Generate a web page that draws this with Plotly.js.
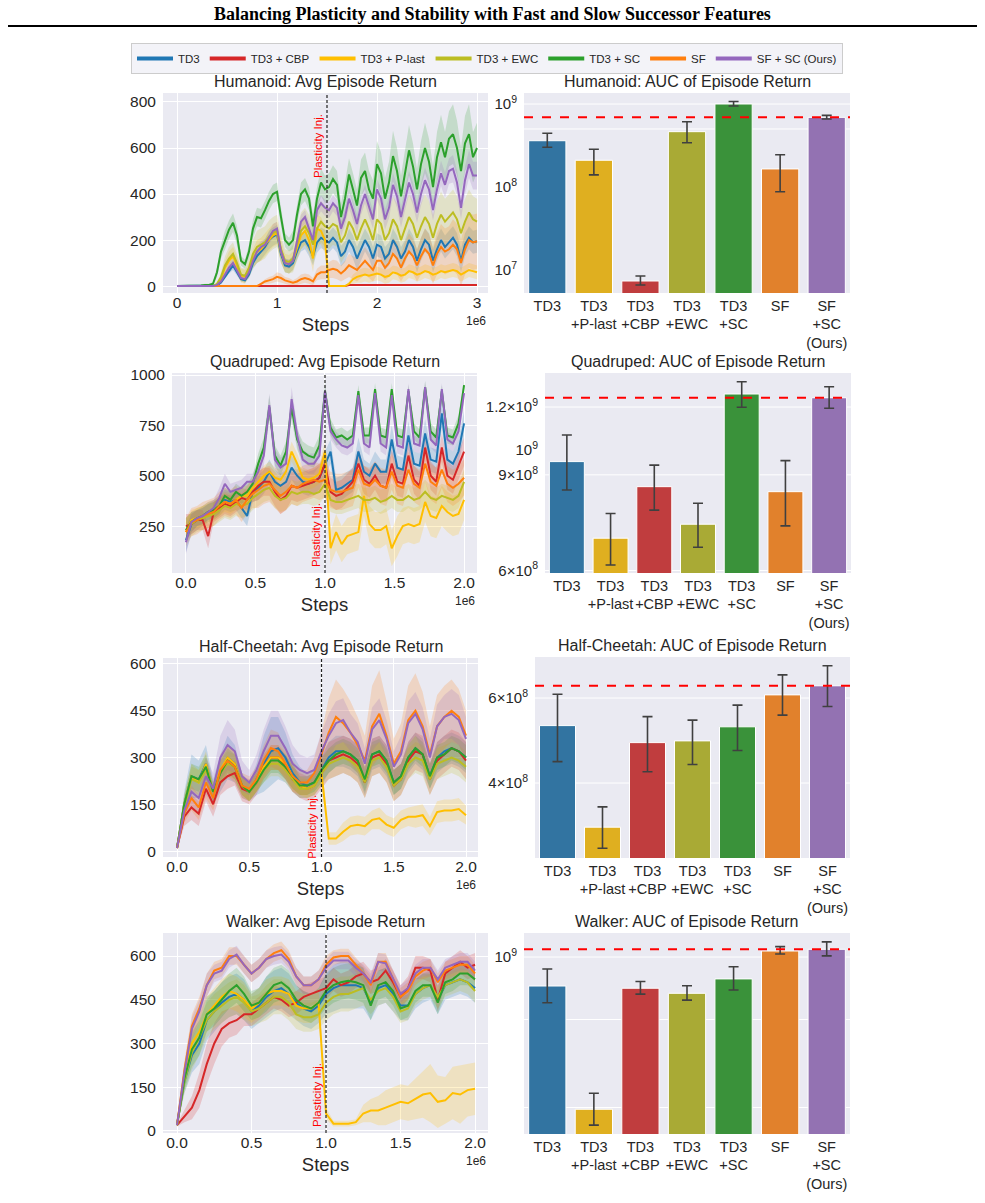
<!DOCTYPE html>
<html><head><meta charset="utf-8">
<script src="https://cdn.plot.ly/plotly-3.0.1.min.js"></script>
<style>html,body{margin:0;padding:0;background:#fff;}#chart{width:985px;height:1203px;}</style>
</head><body><div id="chart"></div>
<script>
// ---------------- DATA ----------------
const seriesNames = ['TD3','TD3 + CBP','TD3 + P-last','TD3 + EWC','TD3 + SC','SF','SF + SC (Ours)'];

// Humanoid (steps in 1e6)
const humSteps = [0,0.04,0.08,0.12,0.16,0.2,0.24,0.28,0.32,0.36, 0.4,0.44,0.48,0.52,0.56,0.6,0.64,0.68,0.72,0.76, 0.8,0.84,0.88,0.92,0.96,1,1.04,1.08,1.12,1.16, 1.2,1.24,1.28,1.32,1.36,1.4,1.44,1.48,1.52,1.56, 1.6,1.64,1.68,1.72,1.76,1.8,1.84,1.88,1.92,1.96, 2,2.04,2.08,2.12,2.16,2.2,2.24,2.28,2.32,2.36, 2.4,2.44,2.48,2.52,2.56,2.6,2.64,2.68,2.72,2.76, 2.8,2.84,2.88,2.92,2.96,3];
const humTD3 = [0,0,0,0,0,0,0,0,0,0, 3,15,40,70,90,60,30,25,50,100, 130,150,170,200,215,225,140,90,85,100, 150,190,200,170,130,190,210,200,190,210, 190,130,150,200,170,120,160,200,170,120, 180,170,120,140,200,170,120,150,200,170, 110,160,200,180,110,160,200,170,190,210, 180,110,180,210,190,195];
const humTD3Sd = [0,0,0,0,0,0,0,0,0,0, 2,5,10,15,20,15,10,10,15,25, 30,35,35,40,40,40,35,30,30,30, 35,40,40,40,40,45,45,45,45,45, 45,45,45,50,50,50,50,50,50,50, 50,50,50,50,50,50,50,50,50,50, 50,50,50,50,50,50,50,50,50,50, 50,50,50,50,50,50];
const humCBP = [0,0,0,0,0,0,0,0,0,0, 0,0,0,0,0,0,0,0,0,0, 0,0,0,0,0,0,0,0,0,0, 0,0,0,0,0,0,0,0,0,0, 0,0,0,5,5,5,5,5,5,5, 5,5,5,5,5,5,5,5,5,5, 5,5,5,5,5,5,5,5,5,5, 5,5,5,5,5,5];
const humCBPSd = [0,0,0,0,0,0,0,0,0,0, 0,0,0,0,0,0,0,0,0,0, 0,0,0,0,0,0,0,0,0,0, 0,0,0,0,0,0,0,0,0,0, 0,0,0,2,2,2,2,2,2,2, 2,2,2,2,2,2,2,2,2,2, 2,2,2,2,2,2,2,2,2,2, 2,2,2,2,2,2];
const humPL = [0,0,0,0,0,0,0,0,0,0, 5,30,80,110,130,90,45,40,70,120, 150,160,180,200,220,230,150,100,95,110, 170,220,240,200,120,250,240,200,0,0, 0,0,0,10,30,40,45,50,45,50, 55,50,40,45,60,55,45,50,65,60, 50,55,65,60,50,55,65,60,65,70, 65,50,60,70,65,60];
const humPLSd = [0,0,0,0,0,0,0,0,0,0, 3,10,30,40,40,40,30,30,30,40, 50,50,50,50,50,50,50,40,40,40, 50,60,60,60,60,60,60,60,0,0, 0,0,0,10,20,25,30,30,30,30, 30,30,30,30,30,30,30,30,30,30, 30,30,30,30,30,30,30,30,30,30, 30,30,30,30,30,30];
const humEWC = [0,0,0,0,0,0,0,0,0,0, 10,40,90,120,140,100,50,45,80,140, 170,180,190,215,230,240,160,110,105,120, 180,240,260,230,180,250,280,260,250,270, 260,190,220,280,250,200,250,290,250,200, 290,270,200,230,290,260,200,250,300,270, 210,260,300,270,210,270,310,280,300,320, 290,230,280,320,290,280];
const humEWCSd = [0,0,0,0,0,0,0,0,0,0, 5,20,40,50,50,40,30,30,40,60, 70,70,70,70,70,70,60,50,50,60, 70,80,80,80,80,90,90,90,90,90, 90,90,90,90,90,90,90,90,90,90, 100,100,100,100,100,100,100,100,100,100, 100,100,100,100,100,100,100,100,100,100, 100,100,100,100,100,100];
const humSC = [0,0,0,0,0,0,3,5,5,10, 60,150,200,245,275,220,110,95,150,250, 300,295,330,370,400,410,300,200,180,200, 310,400,420,380,260,380,450,420,430,465, 440,300,380,485,420,350,470,500,420,380, 530,490,380,450,565,500,390,500,590,520, 420,530,600,540,430,560,625,560,640,660, 600,500,620,660,560,600];
const humSCSd = [0,0,0,0,0,0,3,5,5,8, 20,30,40,40,40,40,20,20,30,40, 40,40,40,40,40,40,40,30,30,40, 40,50,50,50,50,50,60,60,60,60, 60,60,70,70,70,70,80,80,80,80, 100,90,90,90,110,100,90,100,110,100, 90,100,110,100,90,110,120,110,120,130, 120,100,120,130,110,110];
const humSF = [0,0,0,0,0,0,0,0,0,0, 0,0,0,0,0,0,0,0,0,0, 0,10,20,25,30,40,35,25,20,15, 20,30,35,30,20,50,60,60,70,75, 70,55,70,90,80,70,90,110,90,70, 110,110,80,100,140,120,80,120,150,130, 90,130,160,140,90,140,170,150,160,180, 160,100,160,200,190,195];
const humSFSd = [0,0,0,0,0,0,0,0,0,0, 0,0,0,0,0,0,0,0,0,0, 0,5,10,15,15,20,20,15,15,10, 15,20,20,20,15,25,30,30,35,40, 40,35,40,50,50,50,55,60,55,50, 60,60,55,60,70,70,60,70,80,75, 70,80,90,85,80,90,100,100,100,110, 110,100,110,120,120,120];
const humSFSC = [0,0,0,0,0,0,0,0,0,0, 5,20,50,80,100,70,35,30,60,110, 150,170,180,210,240,250,150,100,95,110, 200,280,300,250,200,330,360,340,330,360, 340,250,300,380,330,270,350,400,340,290, 420,380,290,340,440,390,300,380,450,400, 320,400,460,420,330,420,490,440,500,510, 450,340,460,530,480,480];
const humSFSCSd = [0,0,0,0,0,0,0,0,0,0, 3,8,15,20,20,15,10,10,15,20, 25,25,25,25,30,30,25,20,20,20, 25,30,30,30,30,35,35,35,35,35, 35,35,35,40,40,40,40,40,40,40, 45,45,45,45,50,50,45,50,50,50, 45,50,55,50,45,50,55,55,55,60, 55,50,60,60,60,60];

// Quadruped
const quadSteps = [0,0.04,0.08,0.12,0.16,0.2,0.24,0.28,0.32,0.36, 0.4,0.44,0.48,0.52,0.56,0.6,0.64,0.68,0.72,0.76, 0.8,0.84,0.88,0.92,0.96,1,1.04,1.08,1.12,1.16, 1.2,1.24,1.28,1.32,1.36,1.4,1.44,1.48,1.52,1.56, 1.6,1.64,1.68,1.72,1.76,1.8,1.84,1.88,1.92,1.96, 2];
const quadTD3 = [180,260,280,300,320,330,350,380,370,380, 340,300,420,440,470,520,470,450,470,540, 500,470,460,470,490,560,620,430,440,460, 480,620,520,500,560,520,520,680,540,530, 700,560,550,710,580,570,810,580,560,620, 760];
const quadTD3Sd = [60,50,50,50,50,50,50,50,50,50, 50,50,50,60,60,60,60,60,60,60, 60,60,60,60,60,60,60,60,60,60, 60,70,60,60,60,60,60,70,60,60, 70,60,60,70,60,60,70,60,60,60, 60];
const quadCBP = [250,260,280,280,200,320,340,360,350,370, 390,380,420,450,470,470,420,380,400,450, 440,450,460,470,490,560,420,400,410,440, 470,560,480,460,500,450,440,560,470,460, 600,480,450,640,500,470,640,500,480,550, 620];
const quadCBPSd = [60,50,50,50,60,50,50,50,50,50, 50,50,50,70,70,70,70,70,70,70, 70,70,70,70,70,70,70,70,70,70, 70,70,70,70,70,70,70,70,70,70, 70,70,70,70,70,70,70,70,70,70, 70];
const quadPL = [220,280,290,300,320,330,350,370,360,380, 400,400,440,470,500,520,490,480,520,620, 560,490,480,490,510,620,140,220,160,200, 210,220,400,260,230,230,250,140,200,250, 260,250,260,370,300,290,350,320,300,310, 380];
const quadPLSd = [50,50,50,50,50,50,50,50,50,50, 50,50,50,50,50,50,50,50,50,50, 50,50,50,50,50,50,80,90,90,90, 90,90,100,90,90,90,90,90,100,90, 90,90,90,100,100,100,100,100,100,100, 100];
const quadEWC = [230,260,280,290,300,310,330,350,340,360, 350,360,390,410,430,440,400,380,390,420, 410,420,420,410,420,460,380,370,370,380, 390,400,380,380,390,370,380,400,380,380, 400,380,390,420,390,380,400,390,380,400, 470];
const quadEWCSd = [60,60,60,60,60,60,60,60,60,60, 60,60,60,60,60,60,60,60,60,60, 60,60,60,60,60,60,60,60,60,60, 60,60,60,60,60,60,60,60,60,60, 60,60,60,60,60,60,60,60,60,60, 60];
const quadSC = [230,270,290,300,320,330,350,400,380,420, 400,420,460,560,640,840,600,550,620,840, 680,620,600,590,650,920,740,690,700,680, 700,920,700,700,930,700,690,930,700,690, 920,720,690,940,720,690,920,700,690,760, 950];
const quadSCSd = [60,50,40,40,40,40,40,40,40,40, 40,40,40,50,50,60,50,50,50,60, 50,50,50,50,50,40,40,40,40,40, 40,30,40,40,30,40,40,30,40,40, 30,40,40,30,40,40,30,40,40,40, 20];
const quadSF = [220,270,280,300,310,320,350,370,360,380, 340,380,410,430,450,460,430,400,420,450, 440,460,470,480,470,480,430,420,420,430, 440,530,460,450,480,450,440,520,450,440, 530,460,440,560,470,450,530,460,440,460, 490];
const quadSFSd = [70,70,70,70,70,70,70,70,70,70, 70,70,70,90,90,90,90,90,90,90, 90,90,90,90,90,90,90,90,90,90, 90,90,90,90,90,90,90,90,90,90, 90,90,90,90,90,90,90,90,90,90, 90];
const quadSFSC = [170,270,290,300,320,340,390,460,420,430, 440,470,470,520,600,850,580,540,560,880, 700,580,560,560,600,920,720,680,650,640, 660,900,660,640,910,660,640,900,650,640, 930,660,650,940,680,650,930,680,660,720, 910];
const quadSFSCSd = [60,50,40,40,40,40,50,50,40,40, 40,40,40,50,50,60,50,50,50,60, 50,50,50,50,50,40,40,40,40,40, 40,30,40,40,30,40,40,30,40,40, 30,40,40,30,40,40,30,40,40,40, 30];

// Half-Cheetah
const cheSteps = [0,0.05,0.1,0.15,0.2,0.25,0.3,0.35,0.4,0.45, 0.5,0.55,0.6,0.65,0.7,0.75,0.8,0.85,0.9,0.95, 1,1.05,1.1,1.15,1.2,1.25,1.3,1.35,1.4,1.45, 1.5,1.55,1.6,1.65,1.7,1.75,1.8,1.85,1.9,1.95, 2];
const cheTD3 = [10,150,240,230,280,190,250,300,280,210, 190,230,280,320,330,300,250,220,210,220, 260,300,320,320,310,290,220,310,320,290, 220,240,300,330,310,240,300,320,330,320, 300];
const cheTD3Sd = [5,40,70,60,60,40,60,70,60,40, 30,50,90,110,100,80,60,50,40,40, 50,50,50,50,50,50,40,50,50,50, 40,40,50,50,50,40,50,50,50,50, 50];
const cheCBP = [10,110,140,120,200,150,220,240,250,200, 190,220,270,300,300,270,230,210,200,210, 250,290,300,310,300,280,220,300,310,280, 210,230,290,320,310,230,290,310,330,320, 290];
const cheCBPSd = [5,30,40,40,40,40,40,40,40,40, 40,40,40,40,40,40,40,40,40,40, 50,60,60,60,60,60,50,60,60,60, 50,50,60,60,60,50,60,60,60,60, 60];
const chePL = [10,150,240,220,280,190,260,300,280,210, 190,220,270,300,300,280,240,210,200,210, 250,40,40,62,80,84,80,100,105,85, 75,100,110,110,115,80,125,130,130,135, 115];
const chePLSd = [5,30,40,40,40,30,40,40,40,30, 30,30,40,40,40,40,40,30,30,30, 40,20,20,30,30,30,30,30,35,30, 30,30,30,35,35,30,35,35,35,35, 30];
const cheEWC = [10,140,230,220,260,190,250,280,270,210, 190,220,260,280,280,260,230,200,200,210, 250,280,290,300,290,270,220,290,300,270, 210,230,280,300,290,230,280,290,300,290, 270];
const cheEWCSd = [5,30,40,40,40,30,40,40,40,30, 30,30,40,40,40,40,40,30,30,30, 40,50,50,50,50,50,50,50,50,50, 50,50,50,50,50,50,50,50,50,50, 50];
const cheSC = [10,150,240,230,270,190,250,290,270,210, 190,220,260,290,290,270,240,210,210,220, 260,290,310,320,310,290,230,310,320,290, 220,240,300,330,310,240,300,310,330,320, 300];
const cheSCSd = [5,30,40,40,40,30,40,40,40,30, 30,30,40,40,40,40,40,30,30,30, 40,40,40,40,40,40,40,40,40,40, 40,40,40,40,40,40,40,40,40,40, 40];
const cheSF = [10,120,170,140,220,170,260,290,270,210, 200,230,290,330,320,280,240,220,220,250, 310,380,430,410,380,340,290,400,440,370, 280,320,420,450,400,310,400,430,450,430, 370];
const cheSFSd = [5,30,40,40,50,40,50,50,50,40, 40,40,50,60,60,50,50,40,40,50, 70,110,120,110,100,90,80,130,140,110, 80,90,110,120,110,90,100,100,100,90, 80];
const cheSFSC = [10,130,190,170,240,200,300,340,320,240, 220,260,320,370,370,330,280,260,250,260, 320,370,410,420,380,350,280,390,420,360, 270,310,410,440,390,300,400,430,440,420, 360];
const cheSFSCSd = [5,30,50,50,60,50,70,80,70,50, 40,50,70,80,80,70,60,50,50,50, 60,70,70,70,60,60,50,70,70,60, 50,60,70,70,70,60,70,70,80,80, 70];

// Walker
const walSteps = [0,0.05,0.1,0.15,0.2,0.25,0.3,0.35,0.4,0.45, 0.5,0.55,0.6,0.65,0.7,0.75,0.8,0.85,0.9,0.95, 1,1.05,1.1,1.15,1.2,1.25,1.3,1.35,1.4,1.45, 1.5,1.55,1.6,1.65,1.7,1.75,1.8,1.85,1.9,1.95, 2];
const walTD3 = [20,170,260,300,380,410,440,460,470,450, 410,430,460,480,490,470,440,420,410,430, 470,490,500,500,500,490,440,490,500,470, 430,430,470,490,500,450,500,510,520,510, 490];
const walTD3Sd = [5,40,60,70,70,70,70,70,70,70, 60,60,70,70,70,70,60,60,60,60, 70,80,80,80,80,70,60,60,60,60, 50,50,50,50,50,50,50,50,50,50, 50];
const walCBP = [20,50,80,140,230,300,350,370,380,400, 400,420,440,460,450,430,440,460,470,480, 490,520,500,510,530,540,510,520,550,510, 460,490,560,560,550,450,540,560,580,560, 570];
const walCBPSd = [5,20,40,60,70,70,60,50,50,40, 40,40,40,40,40,40,40,40,40,40, 40,40,40,40,40,40,40,40,40,40, 40,40,40,40,40,40,40,40,40,40, 40];
const walPL = [20,190,300,340,400,430,460,480,470,450, 420,440,470,480,480,470,430,420,420,440, 60,25,25,25,30,60,70,70,80,90, 100,95,110,125,130,100,105,130,125,140, 145];
const walPLSd = [5,40,60,60,60,60,60,60,60,60, 50,50,50,50,50,50,50,50,50,50, 20,10,10,10,10,30,40,50,60,60, 60,60,70,80,100,90,80,90,100,90, 90];
const walEWC = [20,170,270,320,380,410,430,450,460,440, 410,420,440,460,460,440,400,390,390,400, 440,460,470,470,480,490,450,480,490,460, 410,420,470,490,500,460,500,510,520,510, 480];
const walEWCSd = [5,40,60,60,60,60,60,60,60,60, 50,50,60,60,60,60,50,50,50,50, 60,60,60,60,60,60,50,50,50,50, 40,40,40,40,40,40,40,40,40,40, 40];
const walSC = [20,180,280,320,400,420,450,480,500,470, 430,440,470,500,510,490,450,430,420,440, 480,500,510,515,510,500,430,500,510,480, 420,430,480,500,500,440,510,520,540,540, 520];
const walSCSd = [5,40,60,60,60,60,60,60,60,60, 50,50,60,60,60,60,50,50,50,50, 60,60,60,60,60,60,50,50,50,50, 40,40,40,40,40,40,40,40,40,40, 40];
const walSF = [20,210,360,420,500,550,560,600,600,570, 540,560,590,610,620,590,530,500,500,520, 570,595,600,600,570,540,500,580,580,520, 460,480,530,550,560,510,550,560,570,570, 540];
const walSFSd = [5,30,40,40,40,30,30,30,30,30, 30,30,30,30,30,30,30,30,30,30, 30,25,25,25,25,25,30,30,30,30, 30,30,30,30,30,30,30,30,30,30, 30];
const walSFSC = [20,200,350,410,500,540,550,590,605,570, 540,560,590,600,605,580,530,500,500,520, 560,585,585,585,560,540,510,580,575,520, 470,490,540,560,560,520,560,570,580,580, 550];
const walSFSCSd = [5,30,40,40,40,30,30,30,30,30, 30,30,30,30,30,30,30,30,30,30, 30,30,30,30,30,30,30,30,30,30, 30,30,30,30,30,30,30,30,30,30, 30];

// AUC bar charts (order: TD3, TD3+P-last, TD3+CBP, TD3+EWC, TD3+SC, SF, SF+SC)
const barLabels = ['TD3','TD3<br>+P-last','TD3<br>+CBP','TD3<br>+EWC','TD3<br>+SC','SF','SF<br>+SC<br>(Ours)'];
const humAuc   = [3.61e8, 2.10e8, 7.37e6, 4.64e8, 1.00e9, 1.65e8, 6.90e8];
const humAucHi = [4.44e8, 2.85e8, 8.47e6, 6.12e8, 1.07e9, 2.45e8, 7.30e8];
const humAucLo = [3.01e8, 1.40e8, 6.59e6, 3.42e8, 9.46e8, 8.77e7, 6.60e8];
const quadAuc   = [9.52e8, 6.88e8, 8.56e8, 7.30e8, 1.268e9, 8.38e8, 1.248e9];
const quadAucHi = [1.066e9, 7.64e8, 9.38e8, 7.98e8, 1.336e9, 9.56e8, 1.308e9];
const quadAucLo = [8.44e8, 6.14e8, 7.75e8, 6.62e8, 1.199e9, 7.25e8, 1.194e9];
const cheAuc   = [5.26e8, 3.24e8, 4.85e8, 4.89e8, 5.23e8, 6.09e8, 6.36e8];
const cheAucHi = [6.11e8, 3.57e8, 5.49e8, 5.40e8, 5.80e8, 6.70e8, 7.00e8];
const cheAucLo = [4.43e8, 2.93e8, 4.22e8, 4.37e8, 4.67e8, 5.53e8, 5.76e8];
const walAuc   = [8.75e8, 4.96e8, 8.66e8, 8.46e8, 9.04e8, 1.028e9, 1.036e9];
const walAucHi = [9.46e8, 5.34e8, 8.93e8, 8.76e8, 9.56e8, 1.049e9, 1.072e9];
const walAucLo = [8.10e8, 4.61e8, 8.43e8, 8.20e8, 8.59e8, 1.014e9, 1.005e9];

// tick labels
const humBarTickVals = [1e7, 1e8, 1e9];
const humBarTickText = ['10<sup>7</sup>','10<sup>8</sup>','10<sup>9</sup>'];
const quadBarTickVals = [6e8, 9e8, 1e9, 1.2e9];
const quadBarTickText = ['6×10<sup>8</sup>','9×10<sup>8</sup>','10<sup>9</sup>','1.2×10<sup>9</sup>'];
const cheBarTickVals = [4e8, 6e8];
const cheBarTickText = ['4×10<sup>8</sup>','6×10<sup>8</sup>'];
const walBarTickVals = [1e9];
const walBarTickText = ['10<sup>9</sup>'];
const humBarGrid = [5e8, 1e9];
const quadBarGrid = [6e8, 9e8, 1.2e9];
const cheBarGrid = [4e8, 6e8];
const walBarGrid = [5e8, 7.5e8, 1e9];

// ---------------- DRAWING ----------------
const W = 985, H = 1203;
const dx = (a, b) => [a / W, b / W];
const dy = (t, b) => [1 - b / H, 1 - t / H];
const FONT = 'Liberation Sans, Arial, sans-serif';
const TXT = '#262626';
const lineColors = ['#1f77b4','#d62728','#ffbf00','#bcbd22','#2ca02c','#ff7f0e','#9467bd'];
const barColors = ['#3274a1','#dfaf20','#c03d3e','#a9aa35','#3a923a','#e1812c','#9372b2'];
function rgba(hex, a) {
  const n = parseInt(hex.slice(1), 16);
  return 'rgba(' + (n >> 16 & 255) + ',' + (n >> 8 & 255) + ',' + (n & 255) + ',' + a + ')';
}

const envs = [
  {name:'Humanoid', steps:humSteps, means:[humTD3,humCBP,humPL,humEWC,humSC,humSF,humSFSC], sds:[humTD3Sd,humCBPSd,humPLSd,humEWCSd,humSCSd,humSFSd,humSFSCSd],
   auc:humAuc, hi:humAucHi, lo:humAucLo, tv:humBarTickVals, tt:humBarTickText, grid:humBarGrid,
   L:[163,488,93,293], R:[524,850,93,293], xr:[-0.14,3.11], yr:[-30,839], xt:[0,1,2,3], xtt:['0','1','2','3'], yt:[0,200,400,600,800],
   bar:[6.723,9.1325], inj:1.5, injY:0.905},
  {name:'Quadruped', steps:quadSteps, means:[quadTD3,quadCBP,quadPL,quadEWC,quadSC,quadSF,quadSFSC], sds:[quadTD3Sd,quadCBPSd,quadPLSd,quadEWCSd,quadSCSd,quadSFSd,quadSFSCSd],
   auc:quadAuc, hi:quadAucHi, lo:quadAucLo, tv:quadBarTickVals, tt:quadBarTickText, grid:quadBarGrid,
   L:[172,477,373,573], R:[545,851,373,573], xr:[-0.1,2.093], yr:[17,1010], xt:[0,0.5,1,1.5,2], xtt:['0.0','0.5','1.0','1.5','2.0'], yt:[250,500,750,1000],
   bar:[8.7735,9.1418], inj:1.0, injY:0.36},
  {name:'Half-Cheetah', steps:cheSteps, means:[cheTD3,cheCBP,chePL,cheEWC,cheSC,cheSF,cheSFSC], sds:[cheTD3Sd,cheCBPSd,chePLSd,cheEWCSd,cheSCSd,cheSFSd,cheSFSCSd],
   auc:cheAuc, hi:cheAucHi, lo:cheAucLo, tv:cheBarTickVals, tt:cheBarTickText, grid:cheBarGrid,
   L:[163,478,658,857], R:[535,850,657,858], xr:[-0.097,2.083], yr:[-19,619], xt:[0,0.5,1,1.5,2], xtt:['0.0','0.5','1.0','1.5','2.0'], yt:[0,150,300,450,600],
   bar:[8.4467,8.8631], inj:1.0, injY:0.32},
  {name:'Walker', steps:walSteps, means:[walTD3,walCBP,walPL,walEWC,walSC,walSF,walSFSC], sds:[walTD3Sd,walCBPSd,walPLSd,walEWCSd,walSCSd,walSFSd,walSFSCSd],
   auc:walAuc, hi:walAucHi, lo:walAucLo, tv:walBarTickVals, tt:walBarTickText, grid:walBarGrid,
   L:[163,488,933,1133], R:[524,850,933,1134], xr:[-0.094,2.087], yr:[-7,679], xt:[0,0.5,1,1.5,2], xtt:['0.0','0.5','1.0','1.5','2.0'], yt:[0,150,300,450,600],
   bar:[8.646,9.048], inj:1.0, injY:0.36}
];

const traces = [];
const layout = {
  width: W, height: H, margin: {l:0, r:0, t:0, b:0},
  paper_bgcolor: '#ffffff', plot_bgcolor: '#EAEAF2',
  font: {family: FONT, color: TXT, size: 14},
  showlegend: true,
  legend: {orientation:'h', x:131/W, xanchor:'left', y:1-43/H, yanchor:'top',
           bgcolor:'rgba(234,234,242,0.55)', bordercolor:'#cccccc', borderwidth:1,
           font:{size:11.5, color:TXT, family:FONT}, itemwidth:36, traceorder:'normal'},
  annotations: [], shapes: []
};

layout.annotations.push({xref:'paper', yref:'paper', x:0.5, y:1-14/H, xanchor:'center', yanchor:'middle', showarrow:false,
  text:'<b>Balancing Plasticity and Stability with Fast and Slow Successor Features</b>',
  font:{family:'Liberation Serif, Times New Roman, serif', size:18, color:'#000'}});
layout.shapes.push({type:'line', xref:'paper', yref:'paper', x0:8/W, x1:977/W, y0:1-26/H, y1:1-26/H, line:{color:'#000', width:2}});

envs.forEach((e, k) => {
  const li = 2*k + 1, ri = 2*k + 2;
  const lx = 'x' + (li === 1 ? '' : li), ly = 'y' + (li === 1 ? '' : li);
  const rx = 'x' + ri, ry = 'y' + ri;
  // bands
  e.means.forEach((m, s) => {
    const sd = e.sds[s];
    const up = m.map((v, i) => v + sd[i]);
    const lo = m.map((v, i) => v - sd[i]);
    traces.push({type:'scatter', mode:'lines', x:e.steps.concat(e.steps.slice().reverse()), y:up.concat(lo.slice().reverse()),
      fill:'toself', fillcolor:rgba(lineColors[s], 0.2), line:{width:0, color:lineColors[s]}, hoverinfo:'skip', showlegend:false, xaxis:lx, yaxis:ly});
  });
  // mean lines
  e.means.forEach((m, s) => {
    traces.push({type:'scatter', mode:'lines', x:e.steps, y:m, name:seriesNames[s], line:{color:lineColors[s], width:2}, showlegend:false, xaxis:lx, yaxis:ly});
  });
  // bars
  traces.push({type:'bar', x:barLabels, y:e.auc, width:0.8,
    marker:{color:barColors, line:{color:'#ffffff', width:1}},
    error_y:{type:'data', symmetric:false, array:e.hi.map((v,i)=>v-e.auc[i]), arrayminus:e.auc.map((v,i)=>v-e.lo[i]), color:'#404040', thickness:1.6, width:5},
    showlegend:false, xaxis:rx, yaxis:ry});

  const axBase = {showline:false, zeroline:false, gridcolor:'#ffffff', gridwidth:1, tickcolor:'rgba(0,0,0,0)',
                  tickfont:{size:15.5, color:TXT, family:FONT}};
  layout['xaxis' + (li === 1 ? '' : li)] = Object.assign({}, axBase, {domain:dx(e.L[0], e.L[1]), anchor:ly, range:e.xr, tickvals:e.xt, ticktext:e.xtt,
      ticks:'', ticklabelstandoff:-2,
      title:{text:'Steps', font:{size:18.5, color:TXT, family:FONT}, standoff:8}});
  layout['yaxis' + (li === 1 ? '' : li)] = Object.assign({}, axBase, {domain:dy(e.L[2], e.L[3]), anchor:lx, range:e.yr, tickvals:e.yt, ticks:'outside', ticklen:3});
  layout['xaxis' + ri] = Object.assign({}, axBase, {domain:dx(e.R[0], e.R[1]), anchor:ry, type:'category', range:[-0.5, 6.5], showgrid:false,
      ticks:'', tickangle:0, ticklabelstandoff:2, tickfont:{size:14.5, color:TXT, family:FONT}});
  layout['yaxis' + ri] = Object.assign({}, axBase, {domain:dy(e.R[2], e.R[3]), anchor:rx, type:'log', range:e.bar, tickvals:e.tv, ticktext:e.tt, showgrid:false,
      ticks:'outside', ticklen:3, tickfont:{size:15, color:TXT, family:FONT}});

  // bar grid lines
  e.grid.forEach(g => layout.shapes.push({type:'line', layer:'below', xref:rx + ' domain', x0:0, x1:1, yref:ry, y0:g, y1:g, line:{color:'#ffffff', width:1}}));
  // reference (ours) line
  const ours = e.auc[e.auc.length - 1];
  layout.shapes.push({type:'line', xref:rx + ' domain', x0:0, x1:1, yref:ry, y0:ours, y1:ours, line:{color:'#ff0000', width:2, dash:'dash'}});
  // plasticity injection
  layout.shapes.push({type:'line', xref:lx, x0:e.inj, x1:e.inj, yref:ly + ' domain', y0:0, y1:1, line:{color:'#222222', width:1.2, dash:'3px,2px'}});
  layout.annotations.push({xref:lx, x:e.inj, xanchor:'right', xshift:-1, yref:ly + ' domain', y:e.injY, yanchor:'top', textangle:-90, showarrow:false,
    text:'Plasticity Inj.', font:{size:11.5, color:'#ff0000', family:FONT}});
  // titles
  layout.annotations.push({xref:'paper', yref:'paper', x:(e.L[0]+e.L[1])/2/W, y:1-(e.L[2]-1)/H, xanchor:'center', yanchor:'bottom', showarrow:false,
    text:e.name + ': Avg Episode Return', font:{size:16, color:TXT, family:FONT}});
  layout.annotations.push({xref:'paper', yref:'paper', x:(e.R[0]+e.R[1])/2/W, y:1-(e.R[2]-1)/H, xanchor:'center', yanchor:'bottom', showarrow:false,
    text:e.name + ': AUC of Episode Return', font:{size:16, color:TXT, family:FONT}});
  // offset label
  layout.annotations.push({xref:'paper', yref:'paper', x:e.L[1]/W, y:1-(e.L[3]+28)/H, xanchor:'right', yanchor:'middle', showarrow:false,
    text:'1e6', font:{size:12, color:TXT, family:FONT}});
});

// legend entries
seriesNames.forEach((n, s) => {
  traces.push({type:'scatter', mode:'lines', x:[null], y:[null], name:n, line:{color:lineColors[s], width:4}, showlegend:true, xaxis:'x', yaxis:'y', hoverinfo:'skip'});
});

Plotly.newPlot('chart', traces, layout, {staticPlot:true, displayModeBar:false});
</script>
</body></html>
